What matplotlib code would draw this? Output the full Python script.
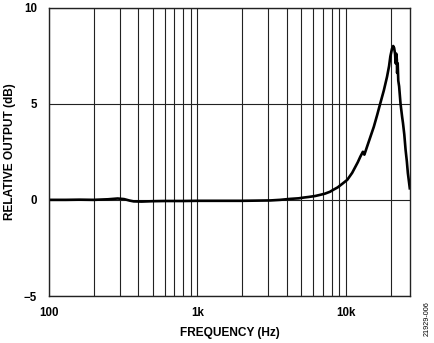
import matplotlib
matplotlib.use('Agg')
import matplotlib.pyplot as plt
from matplotlib.ticker import FixedLocator, NullFormatter

plt.rcParams['font.family'] = ['Liberation Sans', 'DejaVu Sans']
plt.rcParams['font.weight'] = 'bold'

# frequency response
freq_hz = [100, 130, 160, 200, 250, 290, 320, 350, 372, 420, 500, 600, 800,
           1000, 1500, 2000, 2500, 3100, 3600, 4200, 4800, 5200, 5600, 6200,
           6700, 7200, 7800, 8200, 8800, 9500, 10200, 11000, 12000, 12500,
           13000, 13300, 14200, 15400, 16200, 17000, 18000, 18900, 19500,
           19900, 20400, 20800, 21100, 21400, 21600, 21800, 22000, 22100,
           22300, 22500, 22800, 23300, 23900, 24200, 24700, 25200, 25700,
           26100, 26500, 26900]
rel_out_db = [0.0, 0.0, 0.01, 0.0, 0.03, 0.07, 0.04, -0.04, -0.08, -0.09,
              -0.07, -0.06, -0.06, -0.05, -0.05, -0.05, -0.04, -0.03, 0.0,
              0.05, 0.08, 0.12, 0.15, 0.2, 0.26, 0.32, 0.42, 0.52, 0.65,
              0.85, 1.04, 1.4, 1.95, 2.25, 2.5, 2.35, 3.0, 3.8, 4.4, 5.0,
              5.7, 6.4, 6.95, 7.46, 7.85, 8.0, 7.9, 7.6, 7.1, 7.6, 7.3, 6.6,
              7.1, 6.2, 5.9, 5.0, 4.3, 4.0, 3.4, 2.6, 2.0, 1.4, 1.0, 0.6]

x_ticks = [100, 1000, 10000]
x_labels = ['100', '1k', '10k']
y_ticks = [-5, 0, 5, 10]
y_labels = ['\u22125', '0', '5', '10']

fig = plt.figure(figsize=(4.35, 3.43), dpi=100)
ax = fig.add_axes([0.1126, 0.137, 0.83, 0.841])

ax.plot(freq_hz, rel_out_db, color='black', lw=1.9, solid_joinstyle='round')

ax.set_xscale('log')
ax.set_xlim(100, 27000)
ax.set_ylim(-5, 10)

minor = [m * d for d in (100, 1000, 10000) for m in range(2, 10) if m * d < 27000]
ax.xaxis.set_major_locator(FixedLocator(x_ticks))
ax.xaxis.set_minor_locator(FixedLocator(minor))
ax.xaxis.set_minor_formatter(NullFormatter())
ax.set_xticklabels(x_labels)
ax.set_yticks(y_ticks)
ax.set_yticklabels(y_labels)

ax.grid(True, which='both', axis='x', color='#222222', lw=0.8)
ax.grid(True, which='major', axis='y', color='#222222', lw=0.8)
ax.set_axisbelow(True)

ax.tick_params(which='both', length=0, labelsize=8.3)
ax.tick_params(axis='x', pad=8)
ax.tick_params(axis='y', pad=8.5)
for sp in ax.spines.values():
    sp.set_linewidth(1.0)
    sp.set_color('#222222')

ax.set_xlabel('FREQUENCY (Hz)', fontsize=8.6, fontweight='bold')
ax.set_ylabel('RELATIVE OUTPUT (dB)', fontsize=8.6, fontweight='bold')
ax.xaxis.set_label_coords(0.5, -0.108)
ax.yaxis.set_label_coords(-0.09, 0.5)

fig.text(0.982, 0.07, '21929-006', rotation=90, fontsize=5.2,
         fontweight='normal', ha='center', va='center')

fig.savefig('out.png', dpi=100)
